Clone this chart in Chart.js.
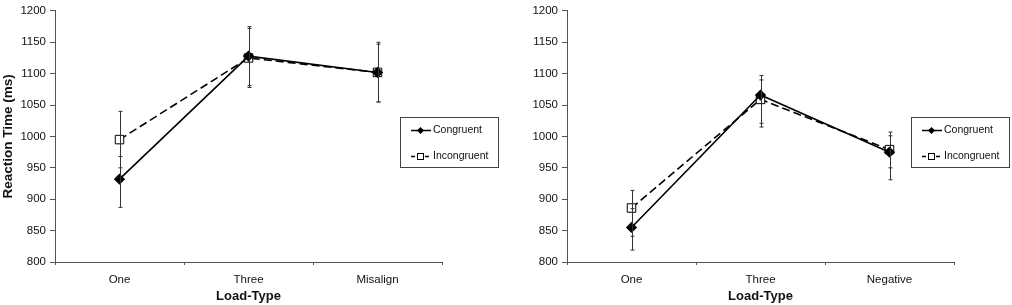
<!DOCTYPE html>
<html>
<head>
<meta charset="utf-8">
<script src="https://cdn.jsdelivr.net/npm/chart.js@4.4.1/dist/chart.umd.min.js"></script>
<style>
  body { margin: 0; background: #fff; }
  #wrap { position: relative; width: 1012px; height: 305px; }
  .box { position: absolute; top: 0; height: 305px; }
</style>
</head>
<body>
<div id="wrap">
  <div class="box" style="left:0;width:500px"><canvas id="chartLeft"></canvas></div>
  <div class="box" style="left:500px;width:512px"><canvas id="chartRight"></canvas></div>
</div>
<script>
// Datos
const yTicks = [800, 850, 900, 950, 1000, 1050, 1100, 1150, 1200];

const categoriesLeft = ['One', 'Three', 'Misalign'];
const congruentLeft = [932, 1128, 1102];
const incongruentLeft = [995, 1125, 1102];
const congruentLeftLow = [887, 1081, 1055];
const congruentLeftHigh = [968, 1175, 1150];
const incongruentLeftLow = [950, 1078, 1055];
const incongruentLeftHigh = [1040, 1172, 1147];

const categoriesRight = ['One', 'Three', 'Negative'];
const congruentRight = [855, 1066, 975];
const incongruentRight = [886, 1059, 979];
const congruentRightLow = [819, 1021, 931];
const congruentRightHigh = [885, 1097, 1007];
const incongruentRightLow = [841, 1015, 950];
const incongruentRightHigh = [914, 1090, 1001];

const fuente = "'Liberation Sans', Arial, sans-serif";

// Barras de error
const errorBars = {
  id: 'errorBars',
  afterDatasetsDraw(chart) {
    const ctx = chart.ctx;
    const y = chart.scales.y;
    ctx.save();
    ctx.strokeStyle = '#333';
    ctx.lineWidth = 1;
    chart.data.datasets.forEach((ds, i) => {
      const meta = chart.getDatasetMeta(i);
      meta.data.forEach((pt, j) => {
        const x = Math.round(pt.x) + 0.5;
        const yl = y.getPixelForValue(ds.errLow[j]);
        const yh = y.getPixelForValue(ds.errHigh[j]);
        ctx.beginPath();
        ctx.moveTo(x, yl); ctx.lineTo(x, yh);
        ctx.moveTo(x - 2, yl); ctx.lineTo(x + 2, yl);
        ctx.moveTo(x - 2, yh); ctx.lineTo(x + 2, yh);
        ctx.stroke();
      });
    });
    ctx.restore();
  }
};

// Leyenda con recuadro
const legendBox = {
  id: 'legendBox',
  afterDraw(chart, args, opts) {
    const ctx = chart.ctx;
    const a = chart.chartArea;
    const bx = a.right + opts.dx;
    const by = a.top + opts.dy;
    const bw = 98, bh = 50;
    ctx.save();
    ctx.strokeStyle = '#444';
    ctx.lineWidth = 1;
    ctx.strokeRect(Math.round(bx) + 0.5, Math.round(by) + 0.5, bw, bh);
    ctx.font = '10.5px ' + fuente;
    ctx.textBaseline = 'middle';
    chart.data.datasets.forEach((ds, i) => {
      const ry = Math.round(by + 13 + i * 26) + 0.5;
      const mx = bx + 20.5;
      ctx.strokeStyle = '#000';
      ctx.lineWidth = 1.5;
      ctx.setLineDash(ds.borderDash ? [4, 3] : []);
      ctx.beginPath();
      ctx.moveTo(bx + 11, ry); ctx.lineTo(bx + 31, ry);
      ctx.stroke();
      ctx.setLineDash([]);
      ctx.lineWidth = 1;
      if (ds.pointStyle === 'rectRot') {
        ctx.fillStyle = '#000';
        ctx.beginPath();
        ctx.moveTo(mx, ry - 3.5); ctx.lineTo(mx + 3.5, ry); ctx.lineTo(mx, ry + 3.5); ctx.lineTo(mx - 3.5, ry);
        ctx.closePath(); ctx.fill();
      } else {
        ctx.fillStyle = '#fff';
        ctx.fillRect(mx - 3, ry - 3, 6, 6);
        ctx.strokeRect(mx - 3, ry - 3, 6, 6);
      }
      ctx.fillStyle = '#111';
      ctx.fillText(ds.label, bx + 33, ry);
    });
    ctx.restore();
  }
};

function crearGrafico(id, categorias, cong, incong, congLow, congHigh, incLow, incHigh, conTitulo, ancho, legendDx) {
  new Chart(document.getElementById(id), {
    type: 'line',
    data: {
      labels: categorias,
      datasets: [
        {
          label: 'Congruent',
          data: cong,
          errLow: congLow,
          errHigh: congHigh,
          borderColor: '#000',
          borderWidth: 1.6,
          pointStyle: 'rectRot',
          pointRadius: 4.5,
          pointBackgroundColor: '#000',
          pointBorderColor: '#000',
          tension: 0
        },
        {
          label: 'Incongruent',
          data: incong,
          errLow: incLow,
          errHigh: incHigh,
          borderColor: '#000',
          borderWidth: 1.6,
          borderDash: [8, 4],
          pointStyle: 'rect',
          pointRadius: 6,
          pointBorderWidth: 1,
          pointBackgroundColor: '#fff',
          pointBorderColor: '#000',
          tension: 0
        }
      ]
    },
    options: {
      responsive: true,
      maintainAspectRatio: false,
      animation: false,
      layout: { padding: { top: 6, right: 58, left: 0, bottom: 0 } },
      plugins: {
        legend: { display: false },
        tooltip: { enabled: false },
        legendBox: { dx: legendDx, dy: 106 }
      },
      scales: {
        x: {
          offset: true,
          grid: { offset: true, drawOnChartArea: false, drawTicks: true, tickLength: 3, color: '#555' },
          border: { display: true, color: '#555', width: 1 },
          ticks: { color: '#111', font: { family: fuente, size: 11.5 }, padding: 8 },
          title: { display: true, text: 'Load-Type', color: '#111', font: { family: fuente, size: 13, weight: 'bold' }, padding: { top: 0, bottom: 1 } },
          afterFit: s => { s.height = 43; }
        },
        y: {
          min: 800,
          max: 1200,
          afterBuildTicks: s => { s.ticks = yTicks.map(v => ({ value: v })); },
          grid: { drawOnChartArea: false, drawTicks: true, tickLength: 5, color: '#555' },
          border: { display: true, color: '#555', width: 1 },
          ticks: { color: '#111', font: { family: fuente, size: 11.5 }, padding: 4, callback: v => String(v) },
          title: { display: conTitulo, text: 'Reaction Time (ms)', color: '#111', font: { family: fuente, size: 13.5, weight: 'bold' }, padding: 0 },
          afterFit: s => { s.width = ancho; }
        }
      }
    },
    plugins: [errorBars, legendBox]
  });
}

crearGrafico('chartLeft', categoriesLeft, congruentLeft, incongruentLeft,
  congruentLeftLow, congruentLeftHigh, incongruentLeftLow, incongruentLeftHigh, true, 55, -42);
crearGrafico('chartRight', categoriesRight, congruentRight, incongruentRight,
  congruentRightLow, congruentRightHigh, incongruentRightLow, incongruentRightHigh, false, 67, -43);
</script>
</body>
</html>
